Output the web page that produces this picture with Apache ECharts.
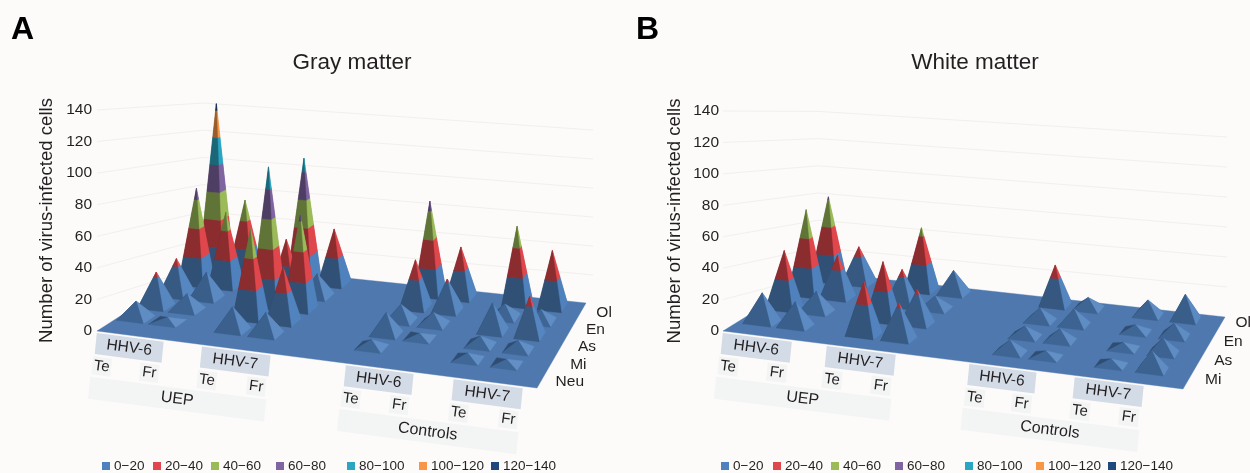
<!DOCTYPE html>
<html><head><meta charset="utf-8">
<style>html,body{margin:0;padding:0;background:#fdfbfa}#c{width:1250px;height:473px}</style>
<script src="https://cdn.jsdelivr.net/npm/echarts@6/dist/echarts.min.js"></script>
</head><body><div id="c"></div>
<script>
// ---- data (columns: UEP HHV-6 Te,Fr, HHV-7 Te,Fr, Controls HHV-6 Te,Fr, HHV-7 Te,Fr)
const grayNeu = [11, 3, 15, 14, 5, 0, 4, 3];
const grayMi  = [23, 11, 59, 36, 14, 3, 6, 6];
const grayAs  = [25, 18, 95, 64, 11, 8, 19, 26];
const grayEn  = [68, 53, 38, 16, 33, 22, 9, 8];
const grayOl  = [125, 55, 90, 40, 67, 36, 55, 40];
const whiteMi = [19, 16, 34, 23, 8, 4, 4, 12];
const whiteAs = [39, 14, 39, 23, 7, 8, 4, 10];
const whiteEn = [60, 30, 25, 9, 9, 11, 5, 9];
const whiteOl = [62, 27, 46, 17, 29, 8, 11, 18];
const grayRowNames = ['Neu', 'Mi', 'As', 'En', 'Ol'];
const whiteRowNames = ['Mi', 'As', 'En', 'Ol'];
const bandNames = ['0\u221220', '20\u221240', '40\u221260', '60\u221280', '80\u2212100', '100\u2212120', '120\u2212140'];
const bandColors = ['#4f81bd', '#e0474c', '#9bbb59', '#8064a2', '#2ba6c2', '#f79646', '#1f497d'];
const yMin = 0, yMax = 140, yStep = 20;
const columnPlaces = [4.6, 12, 27.2, 35, 59.7, 67.7, 82.2, 91.3];

// ---- layout
const FONT = '"Liberation Sans", Arial, sans-serif', INK = '#231f20';
const panels = [
  { left: 97, width: 440, top: 110, height: 221, title: 'Gray matter', titleX: 352, letter: 'A', letterX: 11, shear: 2.8,
    fl: [97, 331], fr: [537, 388], bl: [203, 263], br: [586, 303],
    rows: [grayNeu, grayMi, grayAs, grayEn, grayOl], rowNames: grayRowNames,
    rowAt: [0.22, 0.395, 0.57, 0.745, 0.92],
    rowOff: v => [22, 15 - 13 * v],
    spans: [[0, 15.2], [23.9, 39.5], [56.6, 72], [81.1, 96.8]],
    wallL: z => [203, 103 + (140 - z) * 1.36], wallR: z => [593, 130 + (140 - z) * 1.45], wallRMin: 40,
    legendX: [102, 153, 211, 276, 347, 419, 491], nameGap: 41, labelMargin: 5 },
  { left: 723, width: 460, top: 111, height: 220, title: 'White matter', titleX: 975, letter: 'B', letterX: 636, shear: 0,
    fl: [723, 331], fr: [1183, 389], bl: [818, 272], br: [1225, 317],
    rows: [whiteMi, whiteAs, whiteEn, whiteOl], rowNames: whiteRowNames,
    rowAt: [0.195, 0.433, 0.67, 0.91],
    rowOff: v => [22, 7 - 9 * v],
    spans: [[0, 15], [22.6, 37.6], [53.6, 68.2], [76.5, 91.5]],
    wallL: z => [818, 193 - (z - 80) * 1.36], wallR: z => [1227, 137 + (140 - z) * 1.5], wallRMin: 40,
    legendX: [721, 773, 831, 895, 965, 1036, 1108], nameGap: 39, labelMargin: 4 }
];

function mix(hex, k) {
  const n = parseInt(hex.slice(1), 16), c = [n >> 16 & 255, n >> 8 & 255, n & 255];
  const o = c.map(x => k <= 1 ? x * k : x + (255 - x) * (k - 1));
  return 'rgb(' + o.map(Math.round).join(',') + ')';
}
// floor position + height, from the axis scales of the panel's grid
function projector(p, api) {
  const x0 = api.coord([0, 0]);
  const x100 = api.coord([100, 0]);
  return function (u, v, z) {
    const t = (api.coord([u, 0])[0] - x0[0]) / (x100[0] - x0[0]);
    const lx = p.fl[0] + (p.bl[0] - p.fl[0]) * v, ly = p.fl[1] + (p.bl[1] - p.fl[1]) * v;
    const rx = p.fr[0] + (p.br[0] - p.fr[0]) * v, ry = p.fr[1] + (p.br[1] - p.fr[1]) * v;
    const h = z ? (x0[1] - api.coord([0, z])[1]) * (1.013 - 0.184 * v + 0.05 * t) : 0;
    return [lx + (rx - lx) * t, ly + (ry - ly) * t - h];
  };
}
function poly(points, fill) {
  return { type: 'polygon', silent: true, shape: { points }, style: { fill, stroke: fill, lineWidth: 0.4 } };
}
function txt(text, x, y, size, rotation) {
  return { type: 'text', silent: true, x, y, rotation: rotation || 0,
    style: { text, fontSize: size, fontFamily: FONT, fill: INK, align: 'center', verticalAlign: 'middle' } };
}
const DU = 3.1, DV = 0.058;
function spikeItem(p) {
  return function (params, api) {
    const v = p.rowAt[api.value(1)], val = api.value(2);
    const u = api.value(0) + (v - 0.55) * p.shear;
    const P = projector(p, api), children = [];
    const steep = Math.min(1, val / 40);
    const faces = [
      { a: [-1, 1], b: [1, 1], k: 0.95 },                       // back
      { a: [-1, -1], b: [-1, 1], k: 0.6 },                      // left
      { a: [1, -1], b: [1, 1], k: 1.12 - 0.12 * steep },        // right
      { a: [-1, -1], b: [1, -1], k: 0.82 - 0.2 * steep }        // front
    ];
    const at = (c, z) => {
      const f = 1 - z / val;
      return P(u + c[0] * DU * f, v + c[1] * DV * f, z);
    };
    faces.forEach(fc => {
      for (let b = 0; b * yStep < val; b++) {
        const lo = b * yStep, hi = Math.min(val, lo + yStep);
        children.push(poly([at(fc.a, lo), at(fc.b, lo), at(fc.b, hi), at(fc.a, hi)], mix(bandColors[b], fc.k)));
      }
    });
    return { type: 'group', children };
  };
}
function floorItem(p) {
  return function (params, api) {
    const P = projector(p, api), children = [];
    for (let z = yMin; z <= yMax; z += yStep) {
      const a = [p.fl[0], api.coord([0, z])[1]], b = p.wallL(z), c = p.wallR(z);
      const style = { stroke: '#f2f0ed', lineWidth: 1, fill: 'none' };
      children.push({ type: 'line', silent: true, shape: { x1: a[0], y1: a[1], x2: b[0], y2: b[1] }, style });
      if (z >= p.wallRMin) children.push({ type: 'line', silent: true, shape: { x1: b[0], y1: b[1], x2: c[0], y2: c[1] }, style });
    }
    children.push(poly([P(0, 0, 0), P(100, 0, 0), P(100, 1, 0), P(0, 1, 0)], '#4e78ae'));
    return { type: 'group', children };
  };
}
function labelItem(p) {
  return function (params, api) {
    const P = projector(p, api), children = [];
    const slope = (p.fr[1] - p.fl[1]) / (p.fr[0] - p.fl[0]);
    const rot = -Math.atan(slope);
    const at = (u, d) => { const q = P(u, 0, 0); return [q[0] - 0.1 * d, q[1] + d]; };
    const box = (u0, u1, d0, d1, fill, label, size) => {
      children.push({ type: 'polygon', silent: true, shape: { points: [at(u0, d0), at(u1, d0), at(u1, d1), at(u0, d1)] }, style: { fill } });
      const c = at((u0 + u1) / 2, (d0 + d1) / 2);
      children.push(txt(label, c[0], c[1], size, rot));
    };
    const s = p.spans;
    box(s[0][0] - 0.5, s[1][1], 46, 68, '#f3f4f4', 'UEP', 16);
    box(s[2][0] - 0.5, s[3][1], 46, 68, '#f3f4f4', 'Controls', 16);
    ['HHV-6', 'HHV-7', 'HHV-6', 'HHV-7'].forEach((name, i) => {
      box(s[i][0], s[i][1], 2, 23, '#d3dbe6', name, 15.5);
      box(s[i][0] - 0.3, s[i][0] + 4, 25.5, 43.5, '#f3f4f4', 'Te', 15);
      box(s[i][1] - 4.7, s[i][1] - 0.4, 25.5, 43.5, '#f3f4f4', 'Fr', 15);
    });
    p.rowNames.forEach((name, i) => {
      const v = p.rowAt[i], q = P(100, v, 0), off = p.rowOff(v);
      children.push(txt(name, q[0] + off[0], q[1] + off[1], 15.5));
    });
    return { type: 'group', children };
  };
}

const option = {
  backgroundColor: '#fdfbfa', animation: false, tooltip: { show: false },
  title: [], grid: [], xAxis: [], yAxis: [], series: [], legend: []
};
panels.forEach((p, i) => {
  option.title.push({ text: p.title, left: p.titleX, top: 51, padding: 0, textAlign: 'center', textStyle: { fontFamily: FONT, fontSize: 22.5, fontWeight: 'normal', color: INK } });
  option.title.push({ text: p.letter, left: p.letterX, top: 14, padding: 0, textStyle: { fontFamily: FONT, fontSize: 32, fontWeight: 'bold', color: '#000' } });
  option.grid.push({ left: p.left, width: p.width, top: p.top, height: p.height });
  option.xAxis.push({ type: 'value', gridIndex: i, min: 0, max: 100, show: false });
  option.yAxis.push({ type: 'value', gridIndex: i, min: yMin, max: yMax, interval: yStep,
    name: 'Number of virus-infected cells', nameLocation: 'middle', nameGap: p.nameGap, nameRotate: 90,
    nameTextStyle: { fontFamily: FONT, fontSize: 18.6, color: INK },
    axisLine: { show: false }, axisTick: { show: false }, splitLine: { show: false },
    axisLabel: { fontFamily: FONT, fontSize: 15.5, color: INK, margin: p.labelMargin } });
  const base = { type: 'custom', coordinateSystem: 'cartesian2d', xAxisIndex: i, yAxisIndex: i, silent: true };
  option.series.push(Object.assign({}, base, { name: 'floor' + i, data: [[0, 0]], renderItem: floorItem(p) }));
  const cells = [];
  for (let r = p.rows.length - 1; r >= 0; r--) {
    p.rows[r].forEach((val, c) => { if (val > 0) cells.push([columnPlaces[c], r, val]); });
  }
  option.series.push(Object.assign({}, base, { name: 'cells' + i, data: cells, dimensions: ['column', 'row', 'count'], encode: { x: 0, y: 2 }, renderItem: spikeItem(p) }));
  option.series.push(Object.assign({}, base, { name: 'labels' + i, data: [[0, 0]], renderItem: labelItem(p) }));
  p.legendX.forEach((x, b) => {
    option.legend.push({ left: x, top: 459, data: [bandNames[b]], icon: 'rect', itemWidth: 8, itemHeight: 8, itemGap: 0, padding: 0,
      selectedMode: false, textStyle: { fontFamily: FONT, fontSize: 13.5, color: INK, padding: [0, 0, 0, -1] } });
  });
});
bandNames.forEach((name, b) => {
  option.series.push({ type: 'custom', name, coordinateSystem: 'cartesian2d', xAxisIndex: 0, yAxisIndex: 0, silent: true,
    data: [], itemStyle: { color: bandColors[b] }, renderItem: () => null });
});
echarts.init(document.getElementById('c'), null, { renderer: 'canvas' }).setOption(option);
</script></body></html>
